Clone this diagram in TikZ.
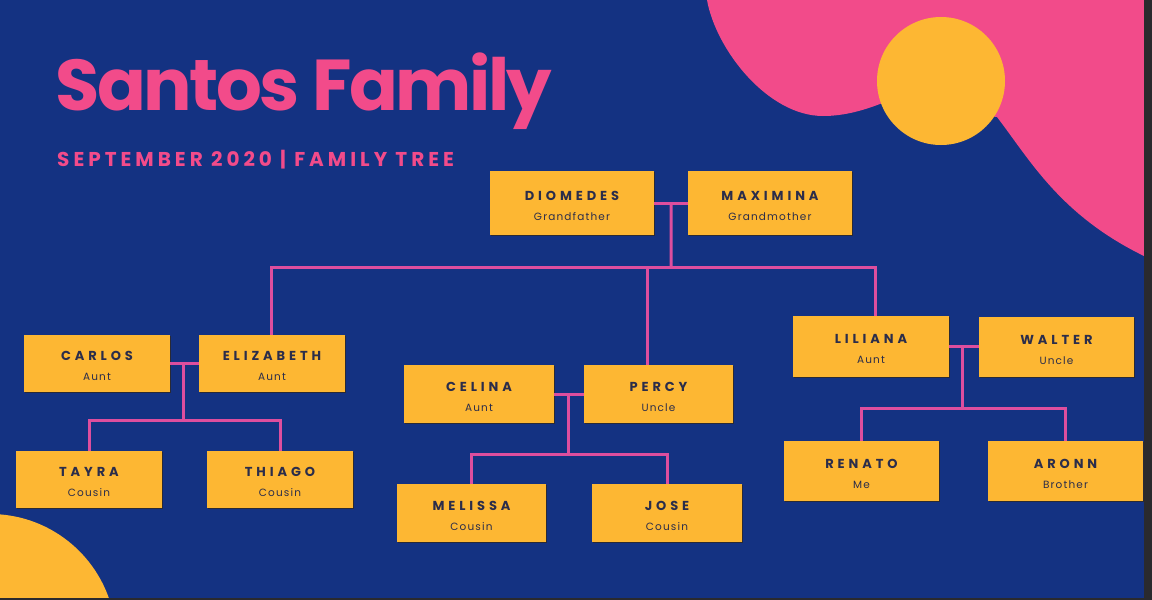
\documentclass[tikz,border=0pt]{standalone}
\usepackage{fontspec}
\setmainfont{Poppins}
\newfontfamily\titlefont[LetterSpace=-3.5]{Poppins}
\newfontfamily\subtfont[LetterSpace=20]{Poppins}
\newfontfamily\namefont[LetterSpace=30]{Poppins}
\newfontfamily\rolefont[LetterSpace=11]{Poppins}
\usetikzlibrary{shadows,calc}
\definecolor{bgblue}{HTML}{143282}
\definecolor{blobpink}{HTML}{F24B8A}
\definecolor{sunyel}{HTML}{FDB733}
\definecolor{boxyel}{HTML}{FDB733}
\definecolor{linepink}{HTML}{DD4E9E}
\definecolor{txtdark}{HTML}{2B2D4A}
\definecolor{shadowc}{HTML}{2A2A35}
\definecolor{edgec}{HTML}{2A2A2E}
\newcommand\pname[2]{\rule{0pt}{17pt}{\namefont\bfseries\fontsize{13}{20}\selectfont #1}\\{\rolefont\fontsize{10.5}{20}\selectfont #2}\rule[-2.5pt]{0pt}{2.5pt}}
\tikzset{
  person/.style={fill=boxyel, inner sep=0pt, align=center, text=txtdark,
    font=\fontsize{10}{20}\selectfont,
    drop shadow={shadow xshift=1.3pt, shadow yshift=-1.3pt, opacity=1, fill=shadowc}},
  link/.style={draw=linepink, line width=3pt, line join=miter}
}
\begin{document}
\begin{tikzpicture}[x=1pt,y=-1pt]
\useasboundingbox (0,0) rectangle (1152,600);
\clip (0,0) rectangle (1152,600);
\fill[bgblue] (0,0) rectangle (1152,600);
% decorative shapes
\fill[blobpink] (707,0) .. controls (716,50) and (768,116) .. (823,116)
  .. controls (845,116) and (865,110) .. (885,102) -- (997,117)
  .. controls (1030,160) and (1060,215) .. (1144,256) -- (1152,256) -- (1152,0) -- cycle;
\fill[sunyel] (941,81) circle[radius=64];
\fill[sunyel] (-10,640) circle[radius=126];
\fill[edgec] (1144,0) rectangle (1152,600);
\fill[edgec] (0,597.5) rectangle (1152,600);
% titles
\node[anchor=base west, inner sep=0pt, text=blobpink, font=\titlefont\bfseries\fontsize{72}{80}\selectfont] (title) at (55,110) {Santos Family};
\node[anchor=base west, inner sep=0pt, text=blobpink, font=\subtfont\bfseries\fontsize{20}{24}\selectfont] (subtitle) at (57,166) {SEPTEMBER 2020 | FAMILY TREE};
% people
\node[person, minimum width=164pt, minimum height=64pt] (dio) at (572,203) {\pname{DIOMEDES}{Grandfather}};
\node[person, minimum width=164pt, minimum height=64pt] (max) at (770,203) {\pname{MAXIMINA}{Grandmother}};
\node[person, minimum width=146pt, minimum height=57pt] (car) at (97,363.5) {\pname{CARLOS}{Aunt}};
\node[person, minimum width=146pt, minimum height=57pt] (eli) at (272,363.5) {\pname{ELIZABETH}{Aunt}};
\node[person, minimum width=146pt, minimum height=57pt] (tay) at (89,479.5) {\pname{TAYRA}{Cousin}};
\node[person, minimum width=146pt, minimum height=57pt] (thi) at (280,479.5) {\pname{THIAGO}{Cousin}};
\node[person, minimum width=150pt, minimum height=58pt] (cel) at (479,394) {\pname{CELINA}{Aunt}};
\node[person, minimum width=149pt, minimum height=58pt] (per) at (658.5,394) {\pname{PERCY}{Uncle}};
\node[person, minimum width=149pt, minimum height=58pt] (mel) at (471.5,513) {\pname{MELISSA}{Cousin}};
\node[person, minimum width=150pt, minimum height=58pt] (jos) at (667,513) {\pname{JOSE}{Cousin}};
\node[person, minimum width=156pt, minimum height=61pt] (lil) at (871,346.5) {\pname{LILIANA}{Aunt}};
\node[person, minimum width=155pt, minimum height=60pt] (wal) at (1056.5,347) {\pname{WALTER}{Uncle}};
\node[person, minimum width=155pt, minimum height=60pt] (ren) at (861.5,471) {\pname{RENATO}{Me}};
\node[person, minimum width=155pt, minimum height=60pt] (aro) at (1065.5,471) {\pname{ARONN}{Brother}};
% junction coordinates
\coordinate (gp) at ($(dio.east)!0.5!(max.west)$);
\coordinate (bus) at (671,267);
\coordinate (busL) at (271,267);
\coordinate (busM) at (647,267);
\coordinate (busR) at (875,267);
\coordinate (f1) at (183,363.5);
\coordinate (f1b) at (183,420);
\coordinate (f2) at (568,394);
\coordinate (f2b) at (568,454);
\coordinate (f3) at (962,347);
\coordinate (f3b) at (962,408);
% connectors
\draw[link] (dio.east) -- (max.west);
\draw[link] (gp) -- (bus);
\draw[link] (busL |- eli.north) -- (busL) -- (busR) -- (busR |- lil.north);
\draw[link] (busM) -- (busM |- per.north);
\draw[link] (car.east) -- (eli.west);
\draw[link] (f1) -- (f1b);
\draw[link] (tay.north) -- (tay.north |- f1b) -- (thi.north |- f1b) -- (thi.north);
\draw[link] (cel.east) -- (per.west);
\draw[link] (f2) -- (f2b);
\draw[link] (mel.north) -- (mel.north |- f2b) -- (jos.north |- f2b) -- (jos.north);
\draw[link] (lil.east) -- (lil.east -| wal.west);
\draw[link] (f3) -- (f3b);
\draw[link] (ren.north) -- (ren.north |- f3b) -- (aro.north |- f3b) -- (aro.north);
\end{tikzpicture}
\end{document}
